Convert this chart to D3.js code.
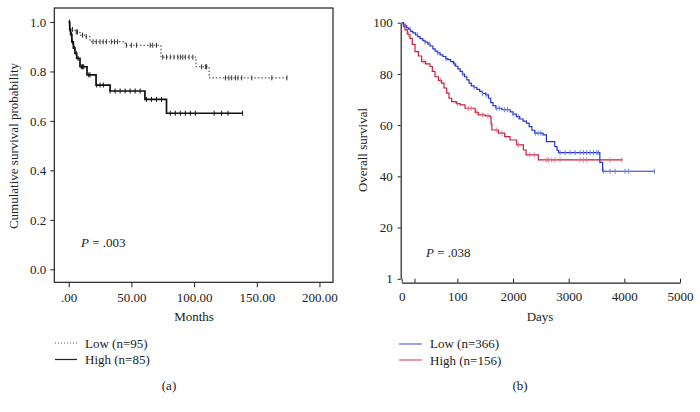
<!DOCTYPE html>
<html><head><meta charset="utf-8">
<script src="https://cdn.jsdelivr.net/npm/d3@7"></script>
<style>body{margin:0;background:#fff}svg{display:block;font-family:"Liberation Serif","DejaVu Serif",serif}</style>
</head><body><svg id="c" width="700" height="412"></svg>
<script>
// ---- Panel (a) data: months vs cumulative survival probability ----
const aXTicks = [0, 50, 100, 150, 200];
const aXTickLabels = [".00", "50.00", "100.00", "150.00", "200.00"];
const aYTicks = [0, 0.2, 0.4, 0.6, 0.8, 1.0];
const aLowSteps = [[0,1.0],[1,0.97],[5,0.96],[9,0.947],[13,0.941],[17,0.92],[45,0.906],[73.6,0.858],[101.5,0.819],[112,0.774]];
const aLowEnd = 174.3;
const aLowCensor = [3,6,7,11,14,19.4,22,25,27.5,30,34,36.5,39,46,50,54,65,67,70,75,78,81,84,87,89,91,93,96,99,106,109,110,125,127.7,130,133,135,138,146,162,174];
const aHighSteps = [[0,1.0],[0.8,0.97],[1.5,0.95],[2.5,0.92],[3.7,0.894],[5,0.873],[6.4,0.853],[9,0.819],[14.6,0.786],[21.8,0.745],[33,0.721],[60.8,0.687],[78,0.631]];
const aHighEnd = 138.7;
const aHighCensor = [0.5,1,2,3,4.5,6,7.5,10,11,12,16,17,22.3,25,27.6,33,37,41,45,49,53,57,62,66,70,74,81,85,89,93,97,101,116,122,127,138.7];
const aLegend = ["Low (n=95)", "High (n=85)"];

// ---- Panel (b) data: days vs overall survival ----
const bXTicks = [0, 230, 1000, 2000, 3000, 4000, 5000];
const bXTickLabels = ["0", "", "100", "2000", "3000", "4000", "5000"];
const bYTicks = [0, 20, 40, 60, 80, 100];
const bYTickLabels = ["1", "20", "40", "60", "80", "100"];
const bLowSteps = [[0,100],[30,99.5],[60,98.8],[90,98.0],[120,97.5],[160,96.6],[200,96.0],[250,95.2],[290,94.6],[330,93.8],[380,93.0],[420,92.4],[470,91.6],[510,90.9],[560,89.8],[600,88.9],[640,88.2],[690,87.4],[740,86.8],[790,86.0],[830,85.6],[880,84.8],[930,83.9],[970,83.0],[1010,82.0],[1050,81.0],[1090,79.9],[1130,78.9],[1170,77.7],[1210,76.4],[1250,75.3],[1300,74.8],[1350,74.0],[1400,73.2],[1450,72.4],[1510,71.8],[1560,70.5],[1600,68.8],[1640,67.6],[1690,66.6],[1800,66.0],[1950,65.2],[2000,64.3],[2060,63.3],[2120,62.4],[2180,61.6],[2240,60.8],[2290,59.4],[2340,58.0],[2390,56.9],[2540,56.2],[2600,53.6],[2750,51.6],[2790,50.2],[2815,49.3],[3560,45.5],[3610,42.0]];
const bLowEnd = 4540;
const bLowCensor = [150,280,420,500,650,800,950,1100,1300,1450,1520,1700,1750,1850,1900,2000,2100,2400,2450,2500,2845,2935,3025,3115,3204,3264,3324,3384,3444,3504,3534,3623,3743,3833,4013,4073,4540];
const bHighSteps = [[0,100],[30,98.5],[59,97.2],[100,95.5],[149,93.9],[190,91.5],[239,88.7],[300,87.0],[359,84.8],[430,83.9],[508,82.9],[550,81.0],[598,78.9],[660,77.5],[718,76.4],[760,74.5],[808,72.5],[850,70.5],[898,69.2],[980,68.4],[1048,67.9],[1138,66.6],[1320,65.0],[1377,64.0],[1500,63.6],[1590,63.3],[1605,60.5],[1620,58.1],[1737,56.9],[1850,55.5],[1946,54.2],[2066,52.3],[2186,50.3],[2234,48.4],[2455,46.4]];
const bHighEnd = 3971;
const bHighCensor = [120,400,700,1000,1200,1250,1350,1450,1550,1700,1800,2100,2300,2380,2605,2635,2695,2755,2845,3204,3264,3324,3743,3953];
const bLegend = ["Low (n=366)", "High (n=156)"];

const svg = d3.select("#c");
const FS = 13;

function stepAt(steps, t){ let v = steps[0][1]; for (const s of steps){ if (s[0] <= t) v = s[1]; } return v; }
function withEnd(steps, end){ return steps.concat([[end, steps[steps.length-1][1]]]); }

// ================= Panel (a) =================
const ax = d3.scaleLinear().domain([-11.5, 210.8]).range([54.3, 333]);
const ay = d3.scaleLinear().domain([-0.0526, 1.0566]).range([282.3, 8]);
const ga = svg.append("g");
ga.append("rect").attr("x", 54.3).attr("y", 8).attr("width", 333-54.3).attr("height", 282.3-8)
  .attr("fill", "none").attr("stroke", "#222").attr("stroke-width", 1.2);
const axA = ga.append("g").attr("transform", "translate(0,282.3)")
  .call(d3.axisBottom(ax).tickValues(aXTicks).tickSize(5).tickPadding(5).tickFormat((d,i)=>aXTickLabels[i]));
const ayA = ga.append("g").attr("transform", "translate(54.3,0)")
  .call(d3.axisLeft(ay).tickValues(aYTicks).tickSize(4).tickPadding(4).tickFormat(d3.format(".1f")));
[axA, ayA].forEach(g => { g.select(".domain").remove(); g.selectAll("line").attr("stroke", "#222");
  g.selectAll("text").attr("font-size", FS).attr("fill", "#222").attr("font-family", "Liberation Serif"); });

const lineA = d3.line().x(d=>ax(d[0])).y(d=>ay(d[1])).curve(d3.curveStepAfter);
ga.append("path").datum(withEnd(aLowSteps, aLowEnd)).attr("d", lineA).attr("fill","none")
  .attr("stroke","#333").attr("stroke-width",1).attr("stroke-dasharray","1.5,2");
ga.append("path").datum(withEnd(aHighSteps, aHighEnd)).attr("d", lineA).attr("fill","none")
  .attr("stroke","#111").attr("stroke-width",1.7);
function censorA(times, steps, col, w){
  ga.selectAll(null).data(times).enter().append("line")
    .attr("x1", d=>ax(d)).attr("x2", d=>ax(d))
    .attr("y1", d=>ay(stepAt(steps,d))-2.5).attr("y2", d=>ay(stepAt(steps,d))+2.5)
    .attr("stroke", col).attr("stroke-width", w);
}
censorA(aLowCensor, aLowSteps, "#333", 1);
censorA(aHighCensor, aHighSteps, "#111", 1);

ga.append("text").attr("x", 194).attr("y", 321).attr("text-anchor","middle").attr("font-size",FS).attr("fill","#222").text("Months");
ga.append("text").attr("transform","translate(18,146) rotate(-90)").attr("text-anchor","middle").attr("font-size",FS).attr("fill","#222").text("Cumulative survival probability");
const pa = ga.append("text").attr("x", 81).attr("y", 247).attr("font-size", FS).attr("fill","#222");
pa.append("tspan").attr("font-style","italic").text("P");
pa.append("tspan").text(" = .003");
// legend a
ga.append("line").attr("x1",55).attr("x2",77).attr("y1",343).attr("y2",343).attr("stroke","#555").attr("stroke-width",1).attr("stroke-dasharray","1,2");
ga.append("line").attr("x1",55).attr("x2",77).attr("y1",359.5).attr("y2",359.5).attr("stroke","#222").attr("stroke-width",1.2);
ga.append("text").attr("x",85).attr("y",347.5).attr("font-size",FS).attr("fill","#222").text(aLegend[0]);
ga.append("text").attr("x",85).attr("y",364).attr("font-size",FS).attr("fill","#222").text(aLegend[1]);
ga.append("text").attr("x",169).attr("y",390).attr("text-anchor","middle").attr("font-size",FS).attr("fill","#222").text("(a)");

// ================= Panel (b) =================
const bx = d3.scaleLinear().domain([0, 5000]).range([401.7, 680]);
const by = d3.scaleLinear().domain([0, 100]).range([278.8, 22.7]);
const gb = svg.append("g");
const bxA = gb.append("g").attr("transform","translate(0,282.7)")
  .call(d3.axisBottom(bx).tickValues(bXTicks).tickSize(-4).tickSizeOuter(0).tickPadding(9).tickFormat((d,i)=>bXTickLabels[i]));
const byA = gb.append("g").attr("transform","translate(400.7,0)")
  .call(d3.axisLeft(by).tickValues(bYTicks).tickSize(3).tickSizeOuter(0).tickPadding(5).tickFormat((d,i)=>bYTickLabels[i]));
[bxA, byA].forEach(g => { g.select(".domain").attr("stroke","#222").attr("stroke-width",1.2); g.selectAll("line").attr("stroke","#222");
  g.selectAll("text").attr("font-size", FS).attr("fill", "#222").attr("font-family", "Liberation Serif"); });

const lineB = d3.line().x(d=>bx(d[0])).y(d=>by(d[1])).curve(d3.curveStepAfter);
function censorB(times, steps, col){
  gb.selectAll(null).data(times).enter().append("line")
    .attr("x1", d=>bx(d)).attr("x2", d=>bx(d))
    .attr("y1", d=>by(stepAt(steps,d))-2.5).attr("y2", d=>by(stepAt(steps,d))+2.5)
    .attr("stroke", col).attr("stroke-width", 1);
}
gb.append("path").datum(withEnd(bHighSteps, bHighEnd)).attr("d", lineB).attr("fill","none").attr("stroke","#c4203e").attr("stroke-width",1.2);
censorB(bHighCensor, bHighSteps, "#e07a8c");
gb.append("path").datum(withEnd(bLowSteps, bLowEnd)).attr("d", lineB).attr("fill","none").attr("stroke","#2436c8").attr("stroke-width",1.2);
censorB(bLowCensor, bLowSteps, "#6f80e6");

gb.append("text").attr("x", 540).attr("y", 321).attr("text-anchor","middle").attr("font-size",FS).attr("fill","#222").text("Days");
gb.append("text").attr("transform","translate(367,150) rotate(-90)").attr("text-anchor","middle").attr("font-size",FS).attr("fill","#222").text("Overall survival");
const pb = gb.append("text").attr("x", 426).attr("y", 257).attr("font-size", FS).attr("fill","#222");
pb.append("tspan").attr("font-style","italic").text("P");
pb.append("tspan").text(" = .038");
gb.append("line").attr("x1",399).attr("x2",422).attr("y1",344).attr("y2",344).attr("stroke","#5a6be0").attr("stroke-width",1.2);
gb.append("line").attr("x1",399).attr("x2",422).attr("y1",360).attr("y2",360).attr("stroke","#d9546c").attr("stroke-width",1.2);
gb.append("text").attr("x",430).attr("y",348).attr("font-size",FS).attr("fill","#222").text(bLegend[0]);
gb.append("text").attr("x",430).attr("y",364.5).attr("font-size",FS).attr("fill","#222").text(bLegend[1]);
gb.append("text").attr("x",520).attr("y",390).attr("text-anchor","middle").attr("font-size",FS).attr("fill","#222").text("(b)");
</script></body></html>
